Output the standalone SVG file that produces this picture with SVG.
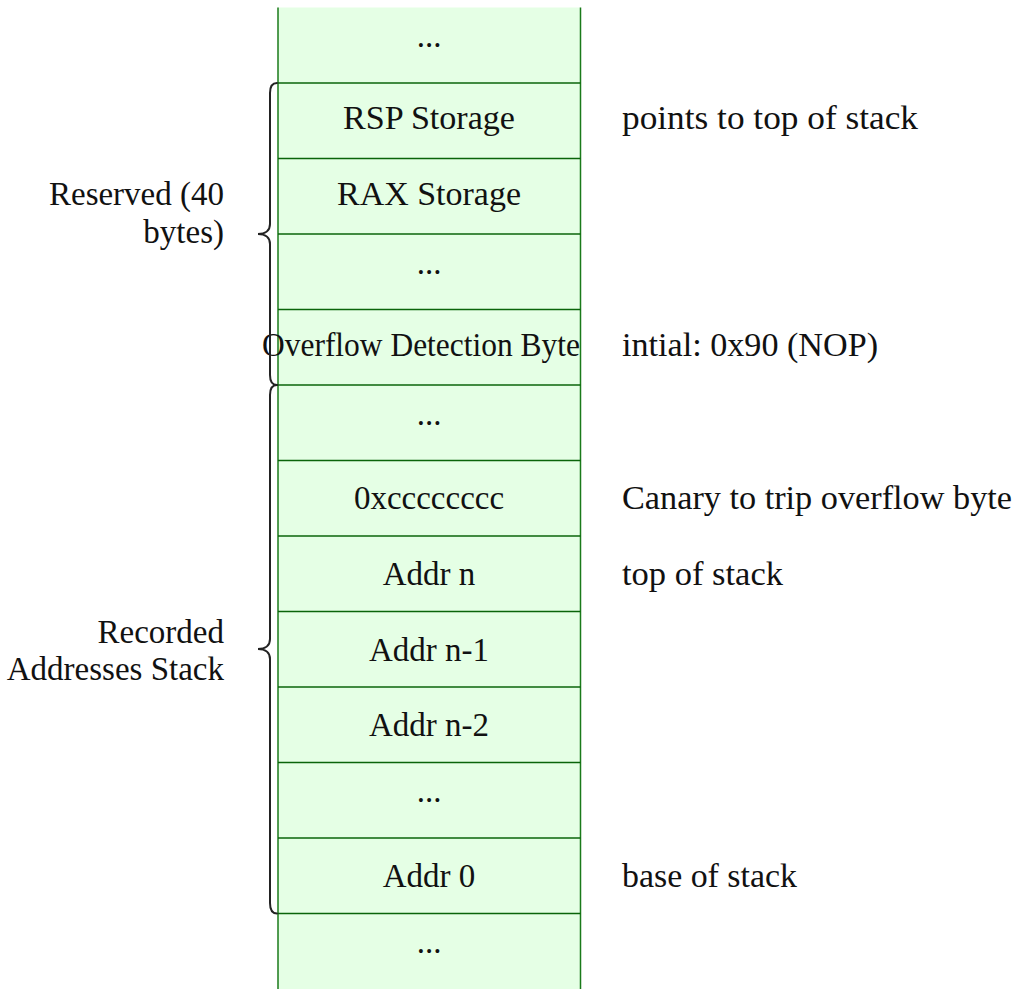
<svg xmlns="http://www.w3.org/2000/svg" width="1015" height="989" viewBox="0 0 1015 989">
  <style>
    text { font-family: "Liberation Serif", "DejaVu Serif", serif; font-size: 33px; fill: #111; }
    .c { text-anchor: middle; }
    .r { text-anchor: end; }
    .cell { fill: #e5ffe5; stroke: none; }
    .sep { stroke: #0a640a; stroke-width: 1.5; fill: none; }
    .side { stroke: #1a7a1a; stroke-width: 1.5; fill: none; }
    .brace { stroke: #222; stroke-width: 2; fill: none; stroke-linecap: round; }
  </style>

  <!-- stack column background -->
  <rect class="cell" x="278" y="7.5" width="302.5" height="981.5"/>

  <!-- row separators and column edges -->
  <g id="connectors">
    <line class="side" x1="278" y1="7.5" x2="278" y2="989"/>
    <line class="side" x1="580.5" y1="7.5" x2="580.5" y2="989"/>
    <line class="sep" x1="278" y1="83" x2="580.5" y2="83"/>
    <line class="sep" x1="278" y1="158.5" x2="580.5" y2="158.5"/>
    <line class="sep" x1="278" y1="234" x2="580.5" y2="234"/>
    <line class="sep" x1="278" y1="309.5" x2="580.5" y2="309.5"/>
    <line class="sep" x1="278" y1="385" x2="580.5" y2="385"/>
    <line class="sep" x1="278" y1="460.5" x2="580.5" y2="460.5"/>
    <line class="sep" x1="278" y1="536" x2="580.5" y2="536"/>
    <line class="sep" x1="278" y1="611.5" x2="580.5" y2="611.5"/>
    <line class="sep" x1="278" y1="687" x2="580.5" y2="687"/>
    <line class="sep" x1="278" y1="762.5" x2="580.5" y2="762.5"/>
    <line class="sep" x1="278" y1="838" x2="580.5" y2="838"/>
    <line class="sep" x1="278" y1="913.5" x2="580.5" y2="913.5"/>
  </g>

  <!-- stack cells -->
  <g id="cell-top-ellipsis"><text class="c" x="429" y="47">...</text></g>
  <g id="cell-rsp"><text class="c" x="429" y="129.3" textLength="172" lengthAdjust="spacingAndGlyphs">RSP Storage</text></g>
  <g id="cell-rax"><text class="c" x="429" y="204.8" textLength="184" lengthAdjust="spacingAndGlyphs">RAX Storage</text></g>
  <g id="cell-reserved-ellipsis"><text class="c" x="429" y="273.5">...</text></g>
  <g id="cell-overflow"><text class="c" x="421" y="355.8" textLength="318" lengthAdjust="spacingAndGlyphs">Overflow Detection Byte</text></g>
  <g id="cell-gap-ellipsis"><text class="c" x="429" y="424.5">...</text></g>
  <g id="cell-canary"><text class="c" x="429" y="508.9">0xcccccccc</text></g>
  <g id="cell-addr-n"><text class="c" x="429" y="585">Addr n</text></g>
  <g id="cell-addr-n1"><text class="c" x="429" y="660.5">Addr n-1</text></g>
  <g id="cell-addr-n2"><text class="c" x="429" y="736">Addr n-2</text></g>
  <g id="cell-addr-ellipsis"><text class="c" x="429" y="802">...</text></g>
  <g id="cell-addr-0"><text class="c" x="429" y="887">Addr 0</text></g>
  <g id="cell-bottom-ellipsis"><text class="c" x="429" y="953">...</text></g>

  <!-- annotations on the right -->
  <g id="note-rsp"><text x="622" y="129" textLength="296" lengthAdjust="spacingAndGlyphs">points to top of stack</text></g>
  <g id="note-overflow"><text x="622" y="355.5" textLength="256" lengthAdjust="spacingAndGlyphs">intial: 0x90 (NOP)</text></g>
  <g id="note-canary"><text x="622" y="508.5" textLength="390" lengthAdjust="spacingAndGlyphs">Canary to trip overflow byte</text></g>
  <g id="note-top"><text x="622" y="585" textLength="161" lengthAdjust="spacingAndGlyphs">top of stack</text></g>
  <g id="note-base"><text x="622" y="887" textLength="175" lengthAdjust="spacingAndGlyphs">base of stack</text></g>

  <!-- braces with their labels -->
  <g id="brace-reserved">
    <path class="brace" d="M277 83 C272 83 270 86 270 93 L270 224 C270 230 266 234 258 234 C266 234 270 238 270 244 L270 375 C270 382 272 385 277 385"/>
    <text class="r" x="224" y="205">Reserved (40</text>
    <text class="r" x="224" y="243">bytes)</text>
  </g>
  <g id="brace-recorded">
    <path class="brace" d="M277 385 C272 385 270 388 270 395 L270 639 C270 645 266 649 258 649 C266 649 270 653 270 659 L270 903 C270 910 272 913.5 277 913.5"/>
    <text class="r" x="224" y="643">Recorded</text>
    <text class="r" x="224" y="680">Addresses Stack</text>
  </g>
</svg>
